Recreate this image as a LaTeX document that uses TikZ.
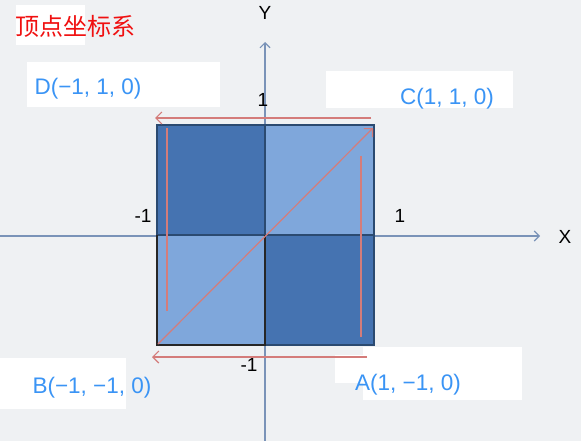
\documentclass[tikz,border=0pt]{standalone}
\usepackage{fontspec}
\setmainfont{Liberation Sans}
\newfontfamily\cjk{Noto Sans CJK SC}
\usetikzlibrary{arrows.meta}

\definecolor{bgGray}{HTML}{EFF1F3}
\definecolor{axisBlue}{HTML}{7A93B8}
\definecolor{darkQuad}{HTML}{4573B1}
\definecolor{lightQuad}{HTML}{7FA7DB}
\definecolor{edgeNavy}{HTML}{2B4A70}
\definecolor{lineRed}{HTML}{D47C7A}
\definecolor{labelBlue}{HTML}{3A94F5}
\definecolor{titleRed}{HTML}{F01010}

\tikzset{
  axisline/.style={draw=axisBlue, line width=1.1pt, -{Straight Barb[length=5pt,width=10pt]}},
  redline/.style={draw=lineRed, line width=1.2pt},
  redarrow/.style={redline, -{Straight Barb[length=6pt,width=12pt]}},
  whitebox/.style={fill=white, draw=none},
  ptlabel/.style={text=labelBlue, font=\fontsize{22.5}{26}\selectfont, inner sep=0pt},
  ticklabel/.style={text=black, font=\fontsize{19}{22}\selectfont, inner sep=0pt},
}

\begin{document}
\begin{tikzpicture}[x=1pt, y=-1pt]
  \useasboundingbox (0,0) rectangle (581,441);
  \fill[bgGray] (0,0) rectangle (581,441);

  % white boxes behind labels
  \fill[whitebox] (16,5) rectangle (85,45);
  \fill[whitebox] (27,62) rectangle (220,107);
  \fill[whitebox] (326,71) rectangle (513,108);
  \fill[whitebox] (0,358) rectangle (126,409);
  \fill[whitebox] (363,347) rectangle (522,400);
  \fill[whitebox] (335,355) rectangle (363,383);

  % axes
  \coordinate (xStart) at (0,236);
  \coordinate (xEnd) at (540,236);
  \coordinate (yStart) at (265,441);
  \coordinate (yEnd) at (265,42);
  \draw[axisline] (xStart) -- (xEnd);
  \draw[axisline] (yStart) -- (yEnd);
  \node[ticklabel] (xName) at (565,237) {X};
  \node[ticklabel] (yName) at (265,13) {Y};

  % square
  \coordinate (sqTL) at (157,125);
  \coordinate (sqTM) at (265,125);
  \coordinate (sqTR) at (374,125);
  \coordinate (sqML) at (157,235);
  \coordinate (sqO) at (265,235);
  \coordinate (sqMR) at (374,235);
  \coordinate (sqBL) at (157,345);
  \coordinate (sqBM) at (265,345);
  \coordinate (sqBR) at (374,345);
  \fill[darkQuad] (sqTL) rectangle (sqO);
  \fill[lightQuad] (sqTM) rectangle (sqMR);
  \fill[lightQuad] (sqML) rectangle (sqBM);
  \fill[darkQuad] (sqO) rectangle (sqBR);
  \draw[edgeNavy, line width=2pt] (sqTL) rectangle (sqBR);
  \draw[edgeNavy, line width=2pt] (sqTM) -- (sqBM);
  \draw[edgeNavy, line width=2pt] (sqML) -- (sqMR);
  \draw[black!85, line width=2pt] (sqML) -- (sqBL) -- (sqBM) -- (sqO);

  % tick labels
  \node[ticklabel] (tickYp) at (263,100) {1};
  \node[ticklabel] (tickXn) at (143,216) {-1};
  \node[ticklabel] (tickXp) at (400,216) {1};
  \node[ticklabel] (tickYn) at (249,365) {-1};

  % red strokes
  \coordinate (topA) at (371,118);
  \coordinate (topB) at (155,118);
  \coordinate (botA) at (367,357);
  \coordinate (botB) at (152,357);
  \coordinate (diagA) at (158,344);
  \coordinate (diagB) at (373,128);
  \coordinate (leftA) at (167,128);
  \coordinate (leftB) at (167,311);
  \coordinate (rightA) at (361,156);
  \coordinate (rightB) at (361,337);
  \draw[redarrow] (topA) -- (topB);
  \draw[redarrow] (botA) -- (botB);
  \draw[redarrow] (diagA) -- (diagB);
  \draw[redline] (leftA) -- (leftB);
  \draw[redline] (rightA) -- (rightB);

  % vertex labels
  \node[text=titleRed, font=\cjk\fontsize{24}{27}\selectfont, inner sep=0pt] (title) at (76,26) {顶点坐标系};
  \node[ptlabel] (ptD) at (88,89) {D(−1, 1, 0)};
  \node[ptlabel] (ptC) at (447,99) {C(1, 1, 0)};
  \node[ptlabel] (ptB) at (92,388) {B(−1, −1, 0)};
  \node[ptlabel] (ptA) at (408,385) {A(1, −1, 0)};
\end{tikzpicture}
\end{document}
